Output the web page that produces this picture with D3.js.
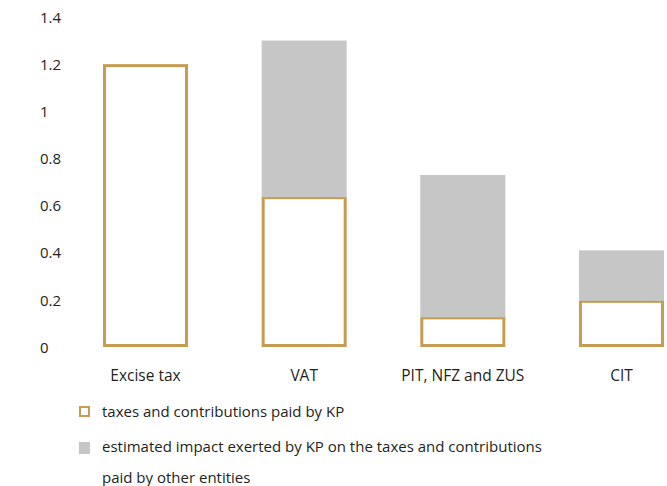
<!DOCTYPE html>
<html>
<head>
<meta charset="utf-8">
<script src="https://cdn.jsdelivr.net/npm/d3@7"></script>
<style>
  body { margin: 0; background: #fff; }
  text { font-family: "Open Sans", sans-serif; fill: #231f20; }
</style>
</head>
<body>
<div id="chart"></div>
<script>
// values
var categories = ["Excise tax", "VAT", "PIT, NFZ and ZUS", "CIT"];
var paidByKP = [1.2, 0.64, 0.13, 0.2];
var otherImpact = [0, 0.66, 0.60, 0.21];
var tickValues = [0, 0.2, 0.4, 0.6, 0.8, 1, 1.2, 1.4];
var legendLabels = [
    ["taxes and contributions paid by KP"],
    ["estimated impact exerted by KP on the taxes and contributions", "paid by other entities"]
];

var width = 667, height = 486;
var gold = "#c69c52", grey = "#c6c6c6";

var svg = d3.select("#chart")
    .append("svg")
    .attr("width", width)
    .attr("height", height);

var x = d3.scaleBand()
    .domain(categories)
    .range([103, 664])
    .paddingInner(0.464)
    .paddingOuter(0);

var y = d3.scaleLinear()
    .domain([0, 1.4])
    .range([347, 17]);

// y axis: just the numbers, left aligned
var yAxis = svg.append("g")
    .attr("transform", "translate(40,0)")
    .call(d3.axisLeft(y).tickValues(tickValues).tickSize(0).tickFormat(d3.format("~g")));
yAxis.select(".domain").remove();
yAxis.selectAll("text")
    .attr("x", 0)
    .attr("dy", ".35em")
    .style("text-anchor", "start")
    .style("font-size", "15px")
    .style("font-family", "'Open Sans', sans-serif")
    .attr("fill", "#231f20");

var bars = svg.selectAll(".bar")
    .data(categories)
    .enter()
    .append("g")
    .attr("class", "bar");

// outlined part: paid by KP
bars.append("rect")
    .attr("x", function(d) { return x(d) + 1.5; })
    .attr("y", function(d, i) { return y(paidByKP[i]) + 1.5; })
    .attr("width", x.bandwidth() - 3)
    .attr("height", function(d, i) { return y(0) - y(paidByKP[i]) - 3; })
    .attr("fill", "none")
    .attr("stroke", gold)
    .attr("stroke-width", 3);

// grey part stacked on top
bars.filter(function(d, i) { return otherImpact[i] > 0; })
    .append("rect")
    .attr("x", function(d) { return x(d); })
    .attr("y", function(d) {
        var i = categories.indexOf(d);
        return y(paidByKP[i] + otherImpact[i]);
    })
    .attr("width", x.bandwidth())
    .attr("height", function(d) {
        var i = categories.indexOf(d);
        return y(paidByKP[i]) - y(paidByKP[i] + otherImpact[i]) + 1;
    })
    .attr("fill", grey);

// category labels
var xAxis = svg.append("g")
    .attr("transform", "translate(0,361)")
    .call(d3.axisBottom(x).tickSize(0));
xAxis.select(".domain").remove();
xAxis.selectAll("text")
    .attr("y", 0)
    .attr("dy", "1.3em")
    .style("font-size", "15.5px")
    .style("font-family", "'Open Sans', sans-serif")
    .attr("fill", "#231f20");

// legend
var legend = svg.append("g");
legend.append("rect")
    .attr("x", 80).attr("y", 407)
    .attr("width", 9).attr("height", 9)
    .attr("fill", "none")
    .attr("stroke", gold)
    .attr("stroke-width", 2);
legend.append("rect")
    .attr("x", 79).attr("y", 442)
    .attr("width", 11).attr("height", 12)
    .attr("fill", grey);

var lineY = [[417], [452, 483]];
legendLabels.forEach(function(lines, k) {
    lines.forEach(function(t, j) {
        legend.append("text")
            .attr("x", 102)
            .attr("y", lineY[k][j])
            .style("font-size", "15px")
            .text(t);
    });
});
</script>
</body>
</html>
